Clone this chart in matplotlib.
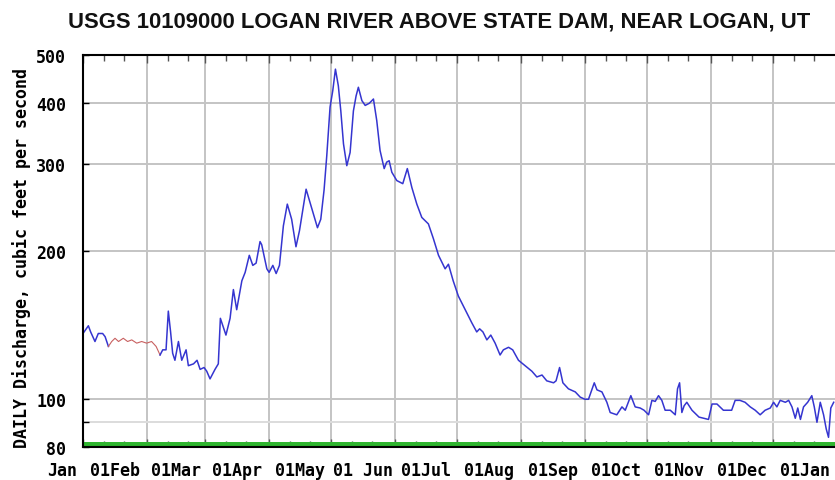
import matplotlib
matplotlib.use('Agg')
import matplotlib.pyplot as plt
import matplotlib.ticker as mticker

# Caudal diario (pies cúbicos por segundo) por día del año
dias = [0, 2.6, 3.7, 5.8, 7.4, 9.5, 10.7, 12.3, 13.9, 15.5, 17.2, 19.5, 21.6,
        23.6, 26, 28.4, 30.8, 33.2, 35.4, 37.3, 38.6, 40.2, 41.3, 42.4, 43.4,
        44.5, 46.2, 47.8, 49.9, 51, 53.5, 55.2, 56.7, 58.6, 59.9, 61.5, 63.9,
        65.5, 66.5, 69.2, 71.2, 72.8, 74.4, 76.9, 78.5, 80.5, 82.2, 83.8, 85.7,
        86.5, 89, 90.1, 91.9, 93.5, 95.1, 97, 98.9, 101, 103.1, 104.8, 108,
        109.9, 113.5, 115.1, 116.7, 118, 119.6, 120.9, 122.2, 123.6, 124.8,
        126.1, 127.7, 129.3, 130.9, 132.2, 133.3, 135, 136.6, 138.6, 140.6,
        142.2, 143.8, 145.8, 147, 148.2, 149.5, 151.9, 154.8, 157, 159.2,
        161.6, 164, 167.2, 169.6, 172.1, 175.3, 176.9, 177.7, 179.2, 181.7,
        185, 188.2, 190.6, 192, 193.6, 195.5, 197.4, 199.5, 201.9, 203.5, 206,
        208, 210.8, 214, 217.3, 219.7, 222.2, 224.5, 227.8, 229, 230.7, 232.3,
        235, 238.3, 240.7, 243, 244.7, 247.5, 248.8, 251.2, 253.6, 255.2,
        258.4, 260.9, 262.5, 265.2, 267.3, 269.7, 271.6, 273.8, 275.4, 277,
        278.6, 280.2, 281.8, 284.3, 286.7, 287.8, 288.8, 289.9, 291, 292.3,
        294.8, 298.2, 302.8, 304.5, 306.9, 310, 314, 315.7, 318, 320.5, 323,
        325.4, 327.8, 330.2, 332.7, 334.3, 335.9, 337.5, 340, 341.6, 343.2,
        344.8, 346, 347.3, 348.8, 350.8, 352.8, 354, 355.3, 356.9, 358.5,
        359.8, 360.9, 362, 363.4]
caudal = [136, 141, 137, 131, 136, 136, 134, 128, 131, 133, 131, 133, 131,
          132, 130, 131, 130, 131, 128, 123, 126, 126, 151, 137, 124,
          120, 131, 120, 126, 117, 118, 120, 115, 116, 114, 110, 115,
          118, 146, 135, 146, 167, 152, 174, 181, 196, 187, 189, 209,
          206, 184, 181, 187, 180, 187, 225, 249, 232, 204, 220, 267,
          251, 223, 232, 266, 312, 392, 423, 468, 433, 385,
          330, 298, 317, 385, 413, 430, 404, 395, 399, 407,
          368, 320, 294, 303, 305, 289, 278, 274, 294, 269,
          249, 234, 227, 212, 196, 184, 188, 183, 174, 162,
          152, 143, 137, 139, 137, 132, 135, 130, 123, 126, 127.5,
          126, 120, 117, 114, 111, 112, 109, 108, 109, 116, 108,
          105, 103.5, 101, 100, 100, 108, 104.5, 103.5, 98.6, 94,
          93, 96.5, 95, 101.7, 96.5, 96, 95, 93, 99.5, 99,
          101.7, 99.5, 95, 95, 93, 105, 108, 94, 97, 98.6,
          95, 92, 91, 97.8, 97.8, 95, 95, 99.5, 99.5, 98.6, 96.5,
          95, 93, 95, 96, 98.6, 96.5, 99.5, 98.6, 99.5, 96.5,
          91.5, 96, 91, 96.5, 98.6, 101.7, 96.5, 89.8, 98.6, 93,
          87, 83.7, 96, 98.6]

# Tramo de datos estimados (en rojo)
est_ini, est_fin = 7, 19

inicio_mes = [0, 31, 59, 90, 120, 151, 181, 212, 243, 273, 304, 334, 365]
etiquetas_mes = ['Jan', '01Feb', '01Mar', '01Apr', '01May', '01 Jun', '01Jul',
                 '01Aug', '01Sep', '01Oct', '01Nov', '01Dec', '01Jan']
valores_y = [80, 100, 200, 300, 400, 500]
nivel_verde = 81

fuente_mono = 'DejaVu Sans Mono'

fig = plt.figure(figsize=(8.35, 4.81), dpi=100)
ax = fig.add_axes([83/835, 1 - 448/481, (837 - 83)/835, (448 - 56)/481])

ax.set_yscale('log')
ax.set_ylim(80, 500)
ax.set_xlim(0, 365)

# Rejilla
for d in inicio_mes[1:-1]:
    ax.axvline(d, color='#c4c4c4', lw=1.4, zorder=1)
for v in [100, 200, 300, 400]:
    ax.axhline(v, color='#c4c4c4', lw=1.4, zorder=1)
ax.axhline(90, color='#dcdcdc', lw=1.4, zorder=1)

# Línea verde en la base
ax.axhline(nivel_verde, color='#2fb52f', lw=3.6, zorder=2)

# Serie de caudal
ax.plot(dias[:est_ini + 1], caudal[:est_ini + 1], color='#3535d0', lw=1.1, zorder=3)
ax.plot(dias[est_ini:est_fin + 1], caudal[est_ini:est_fin + 1], color='#c86060', lw=0.8, zorder=3)
ax.plot(dias[est_fin:], caudal[est_fin:], color='#3535d0', lw=1.1, zorder=3)

# Ejes y marcas
ax.yaxis.set_major_locator(mticker.FixedLocator(valores_y))
ax.yaxis.set_minor_locator(mticker.FixedLocator([90]))
ax.yaxis.set_major_formatter(mticker.FixedFormatter([str(v) for v in valores_y]))
ax.yaxis.set_minor_formatter(mticker.NullFormatter())
ax.tick_params(axis='y', which='both', direction='in', length=4, width=1,
               labelsize=12, pad=12)
for t in ax.get_yticklabels():
    t.set_family(fuente_mono)
    t.set_fontweight('bold')

menores = []
for d in inicio_mes[:-1]:
    menores += [d + 10, d + 20]
ax.xaxis.set_major_locator(mticker.FixedLocator(inicio_mes))
ax.xaxis.set_minor_locator(mticker.FixedLocator(menores))
ax.xaxis.set_major_formatter(mticker.NullFormatter())
ax.tick_params(axis='x', which='major', direction='in', length=6, width=1,
               top=True, color='#555555')
ax.tick_params(axis='x', which='minor', direction='in', length=4, width=1,
               top=True, color='#555555')

for s in ax.spines.values():
    s.set_linewidth(1.5)
    s.set_zorder(4)

# Etiquetas de meses, centradas entre inicios de mes
posiciones = [-10] + [(inicio_mes[i - 1] + inicio_mes[i]) / 2 for i in range(1, 13)]
for x, txt in zip(posiciones, etiquetas_mes):
    ax.text(x, -0.035, txt, transform=ax.get_xaxis_transform(), ha='center',
            va='top', fontsize=12, family=fuente_mono, fontweight='bold',
            clip_on=False)

fig.text(22/835, 1 - 258/481, 'DAILY Discharge, cubic feet per second',
         rotation=90, ha='center', va='center', fontsize=12,
         family=fuente_mono, fontweight='bold')

fig.text(439/835, 1 - 22/481,
         'USGS 10109000 LOGAN RIVER ABOVE STATE DAM, NEAR LOGAN, UT',
         ha='center', va='center', fontsize=15.8, fontweight='bold',
         family=['Liberation Sans', 'DejaVu Sans'], color='#111111')

fig.savefig('out.png', dpi=100)
